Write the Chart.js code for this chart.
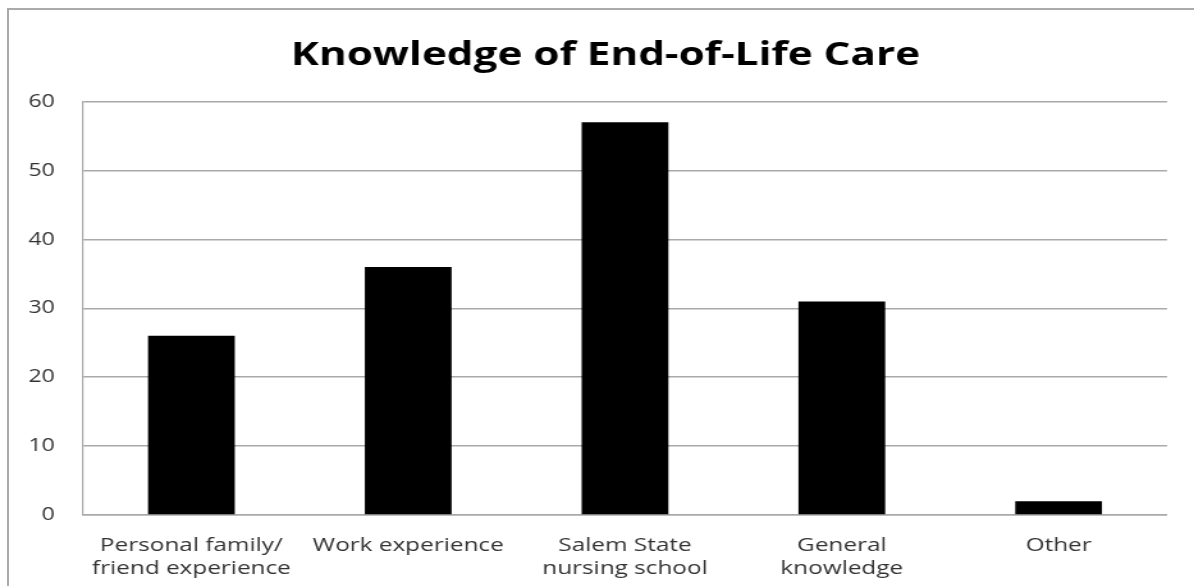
<!DOCTYPE html>
<html lang="en">
<head>
    <meta charset="UTF-8">
    <title>Knowledge of End-of-Life Care</title>
    <script src="https://cdn.jsdelivr.net/npm/chart.js@4.4.0/dist/chart.umd.min.js"></script>
    <style>
        body { margin: 0; background: #fff; }
        #wrapper { position: relative; width: 1194px; height: 586px; overflow: hidden; }
        #frame {
            position: absolute; left: 7px; top: 8px; right: -10px; bottom: -10px;
            border-left: 2px solid #aaaaaa; border-top: 2px solid #aaaaaa;
        }
        /* the original picture is stretched sideways, so the canvas is drawn narrow and widened by css */
        canvas { position: absolute; left: 0; top: 0; }
    </style>
</head>
<body>
    <div id="wrapper">
        <div id="frame"></div>
        <canvas id="knowledgeChart"></canvas>
    </div>

    <script>
        const chartTitle = 'Knowledge of End-of-Life Care';
        const categories = [
            ['Personal family/', 'friend experience'],
            'Work experience',
            ['Salem State', 'nursing school'],
            ['General', 'knowledge'],
            'Other'
        ];
        const responses = [26, 36, 57, 31, 2];
        const yMin = 0;
        const yMax = 60;
        const yStep = 10;

        const gridGray = '#a9a9a9';
        const textGray = '#333333';

        const stretch = 1.28;
        const canvas = document.getElementById('knowledgeChart');
        canvas.width = Math.round(1194 / stretch);
        canvas.height = 586;
        canvas.style.width = '1194px';
        canvas.style.height = '586px';

        // the title in the original sits a little right of the middle
        const nudgeTitle = {
            id: 'nudgeTitle',
            afterLayout(chart) {
                const t = chart.titleBlock;
                if (!t) return;
                const off = 22 / stretch;
                t.left += off;
                t.right += off;
            }
        };

        const ctx = canvas.getContext('2d');
        const knowledgeChart = new Chart(ctx, {
            type: 'bar',
            data: {
                labels: categories,
                datasets: [{
                    label: 'Responses',
                    data: responses,
                    backgroundColor: '#000000',
                    borderWidth: 0,
                    categoryPercentage: 1.0,
                    barPercentage: 0.4
                }]
            },
            options: {
                responsive: false,
                animation: false,
                devicePixelRatio: 1,
                layout: {
                    padding: { left: 0, right: 27 / stretch, top: 0, bottom: 0 }
                },
                plugins: {
                    legend: { display: false },
                    tooltip: { enabled: false },
                    title: {
                        display: true,
                        text: chartTitle,
                        color: '#000000',
                        font: { family: 'Open Sans', size: 33, weight: 'bold' },
                        padding: { top: 36, bottom: 26 }
                    }
                },
                scales: {
                    x: {
                        grid: { display: false, drawTicks: false },
                        border: { display: true, color: gridGray, width: 1.5 },
                        ticks: {
                            color: textGray,
                            padding: 19,
                            maxRotation: 0,
                            autoSkip: false,
                            font: { family: 'Open Sans', size: 19, lineHeight: 1.2 }
                        },
                        afterFit: (scale) => { scale.height = 71; }
                    },
                    y: {
                        min: yMin,
                        max: yMax,
                        grid: { color: gridGray, lineWidth: 1.5, drawTicks: false },
                        border: { display: true, color: gridGray, width: 1.2 },
                        ticks: {
                            stepSize: yStep,
                            color: textGray,
                            padding: 22,
                            font: { family: 'Open Sans', size: 18 }
                        },
                        afterFit: (scale) => { scale.width = 83 / stretch; }
                    }
                }
            },
            plugins: [nudgeTitle]
        });
    </script>
</body>
</html>
